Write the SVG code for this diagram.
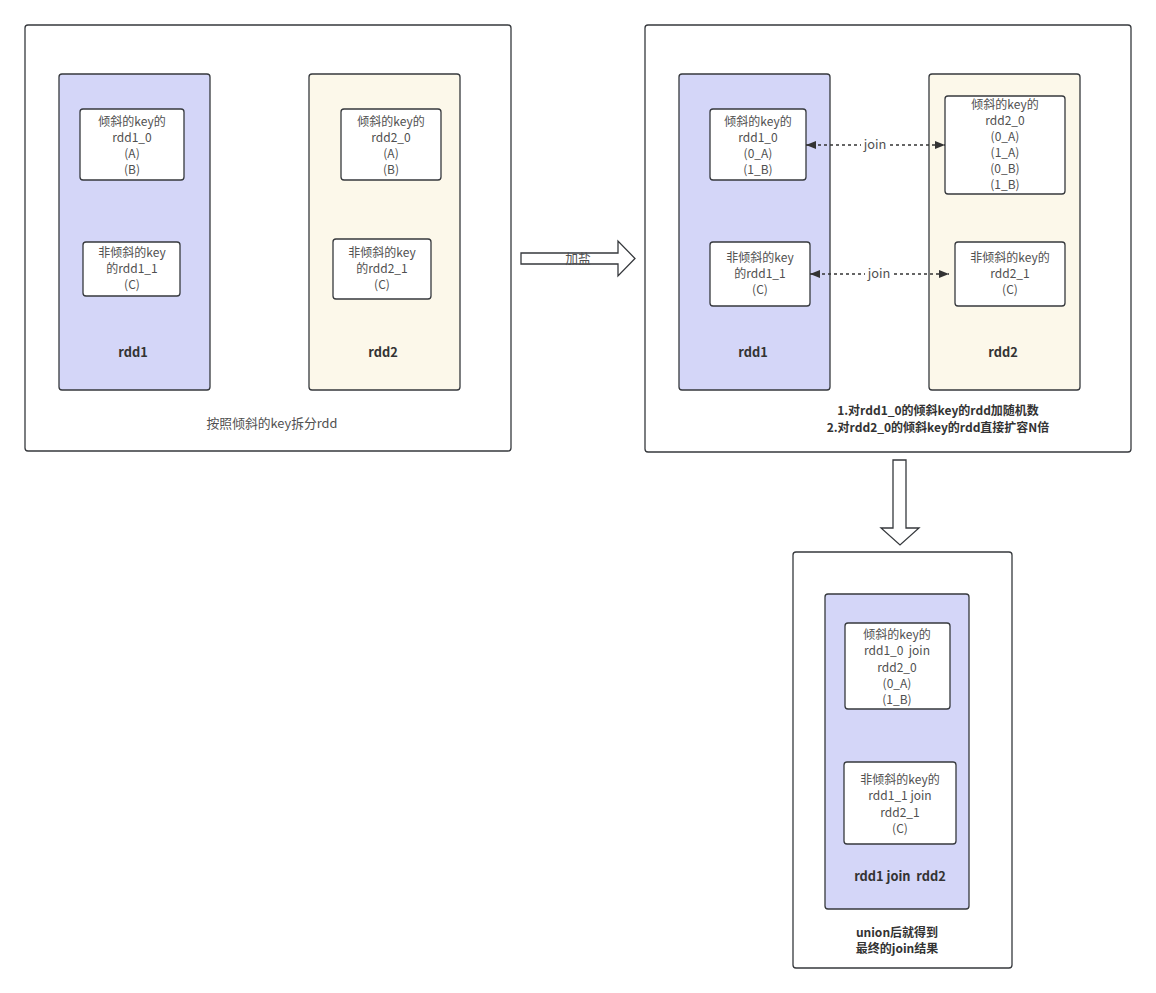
<svg xmlns="http://www.w3.org/2000/svg" width="1156" height="993" viewBox="0 0 1156 993">
<style>
.frame{fill:#ffffff;stroke:#36393d;stroke-width:1.3}
.blue{fill:#d4d6f8;stroke:#36393d;stroke-width:1.3}
.cream{fill:#fcf8ea;stroke:#36393d;stroke-width:1.3}
.box{fill:#ffffff;stroke:#36393d;stroke-width:1.3}
text{font-family:"Noto Sans CJK SC","Microsoft YaHei",sans-serif;font-size:12px;fill:#505050;text-anchor:middle;white-space:pre}
text.b{font-weight:bold;fill:#333333}
text.l{font-size:12.8px}
.conn{stroke:#333333;stroke-width:1.5;stroke-dasharray:3 3;fill:none}
.fat{fill:#ffffff;stroke:#36393d;stroke-width:1.3}
</style>
<defs>
<marker id="ah" viewBox="0 0 10 10" refX="10" refY="5" markerWidth="10" markerHeight="10" markerUnits="userSpaceOnUse" orient="auto-start-reverse">
<path d="M0,1 L10,5 L0,9 Z" fill="#333333"/>
</marker>
</defs>

<g id="panel1">
<rect class="frame" x="25" y="25" width="486" height="426" rx="3"/>
<text class="l" x="272" y="428">按照倾斜的key拆分rdd</text>
</g>
<g id="p1-rdd1">
<rect class="blue" x="59" y="74" width="151" height="316" rx="3"/>
<text class="b l" x="133" y="357">rdd1</text>
</g>
<g id="p1-rdd1_0">
<rect class="box" x="80" y="109" width="104" height="71" rx="3"/>
<text x="132" y="126"><tspan x="132">倾斜的key的</tspan><tspan x="132" dy="16">rdd1_0</tspan><tspan x="132" dy="16">(A)</tspan><tspan x="132" dy="16">(B)</tspan></text>
</g>
<g id="p1-rdd1_1">
<rect class="box" x="83" y="242" width="97" height="54" rx="3"/>
<text x="132" y="257"><tspan x="132">非倾斜的key</tspan><tspan x="132" dy="16">的rdd1_1</tspan><tspan x="132" dy="16">(C)</tspan></text>
</g>
<g id="p1-rdd2">
<rect class="cream" x="309" y="74" width="151" height="316" rx="3"/>
<text class="b l" x="383" y="357">rdd2</text>
</g>
<g id="p1-rdd2_0">
<rect class="box" x="341" y="109" width="100" height="71" rx="3"/>
<text x="391" y="126"><tspan x="391">倾斜的key的</tspan><tspan x="391" dy="16">rdd2_0</tspan><tspan x="391" dy="16">(A)</tspan><tspan x="391" dy="16">(B)</tspan></text>
</g>
<g id="p1-rdd2_1">
<rect class="box" x="333" y="239" width="98" height="60" rx="3"/>
<text x="382" y="257"><tspan x="382">非倾斜的key</tspan><tspan x="382" dy="16">的rdd2_1</tspan><tspan x="382" dy="16">(C)</tspan></text>
</g>

<g id="arrow-salt">
<polygon class="fat" points="521,253 618,253 618,241 635,258.5 618,276 618,264 521,264"/>
<text class="l" x="578" y="263">加盐</text>
</g>

<g id="panel2">
<rect class="frame" x="645" y="25" width="486" height="427" rx="3"/>
<text class="b" x="938" y="415"><tspan x="938">1.对rdd1_0的倾斜key的rdd加随机数</tspan><tspan x="938" dy="17">2.对rdd2_0的倾斜key的rdd直接扩容N倍</tspan></text>
</g>
<g id="p2-rdd1">
<rect class="blue" x="679" y="74" width="151" height="316" rx="3"/>
<text class="b l" x="753" y="357">rdd1</text>
</g>
<g id="p2-rdd1_0">
<rect class="box" x="710" y="109" width="96" height="71" rx="3"/>
<text x="758" y="126"><tspan x="758">倾斜的key的</tspan><tspan x="758" dy="16">rdd1_0</tspan><tspan x="758" dy="16">(0_A)</tspan><tspan x="758" dy="16">(1_B)</tspan></text>
</g>
<g id="p2-rdd1_1">
<rect class="box" x="710" y="242" width="100" height="64" rx="3"/>
<text x="760" y="262"><tspan x="760">非倾斜的key</tspan><tspan x="760" dy="16">的rdd1_1</tspan><tspan x="760" dy="16">(C)</tspan></text>
</g>
<g id="p2-rdd2">
<rect class="cream" x="929" y="74" width="151" height="316" rx="3"/>
<text class="b l" x="1003" y="357">rdd2</text>
</g>
<g id="p2-rdd2_0">
<rect class="box" x="945" y="96" width="120" height="98" rx="3"/>
<text x="1005" y="109"><tspan x="1005">倾斜的key的</tspan><tspan x="1005" dy="16">rdd2_0</tspan><tspan x="1005" dy="16">(0_A)</tspan><tspan x="1005" dy="16">(1_A)</tspan><tspan x="1005" dy="16">(0_B)</tspan><tspan x="1005" dy="16">(1_B)</tspan></text>
</g>
<g id="p2-rdd2_1">
<rect class="box" x="955" y="242" width="110" height="64" rx="3"/>
<text x="1010" y="262"><tspan x="1010">非倾斜的key的</tspan><tspan x="1010" dy="16">rdd2_1</tspan><tspan x="1010" dy="16">(C)</tspan></text>
</g>

<g id="arrow-down">
<polygon class="fat" points="893,460 906,460 906,528 919,528 900,545 881,528 893,528"/>
</g>

<g id="panel3">
<rect class="frame" x="793" y="552" width="219" height="416" rx="3"/>
<text class="b" x="897" y="937"><tspan x="897">union后就得到</tspan><tspan x="897" dy="16">最终的join结果</tspan></text>
</g>
<g id="p3-join">
<rect class="blue" x="825" y="594" width="144" height="315" rx="3"/>
<text class="b l" x="900" y="881">rdd1 join  rdd2</text>
</g>
<g id="p3-join0">
<rect class="box" x="845" y="623" width="105" height="86" rx="3"/>
<text x="897" y="639"><tspan x="897">倾斜的key的</tspan><tspan x="897" dy="16.3">rdd1_0  join</tspan><tspan x="897" dy="16.3">rdd2_0</tspan><tspan x="897" dy="16.3">(0_A)</tspan><tspan x="897" dy="16.3">(1_B)</tspan></text>
</g>
<g id="p3-join1">
<rect class="box" x="844" y="762" width="112" height="82" rx="3"/>
<text x="900" y="784"><tspan x="900">非倾斜的key的</tspan><tspan x="900" dy="16.3">rdd1_1 join</tspan><tspan x="900" dy="16.3">rdd2_1</tspan><tspan x="900" dy="16.3">(C)</tspan></text>
</g>

<g id="connectors">
<line class="conn" x1="806" y1="145" x2="945" y2="145" marker-start="url(#ah)" marker-end="url(#ah)"/>
<rect x="861" y="138" width="28" height="14" fill="#ffffff"/>
<text class="l" x="875" y="149">join</text>
<line class="conn" x1="810" y1="274" x2="949" y2="274" marker-start="url(#ah)" marker-end="url(#ah)"/>
<rect x="865" y="267" width="28" height="14" fill="#ffffff"/>
<text class="l" x="879" y="278">join</text>
</g>
</svg>
